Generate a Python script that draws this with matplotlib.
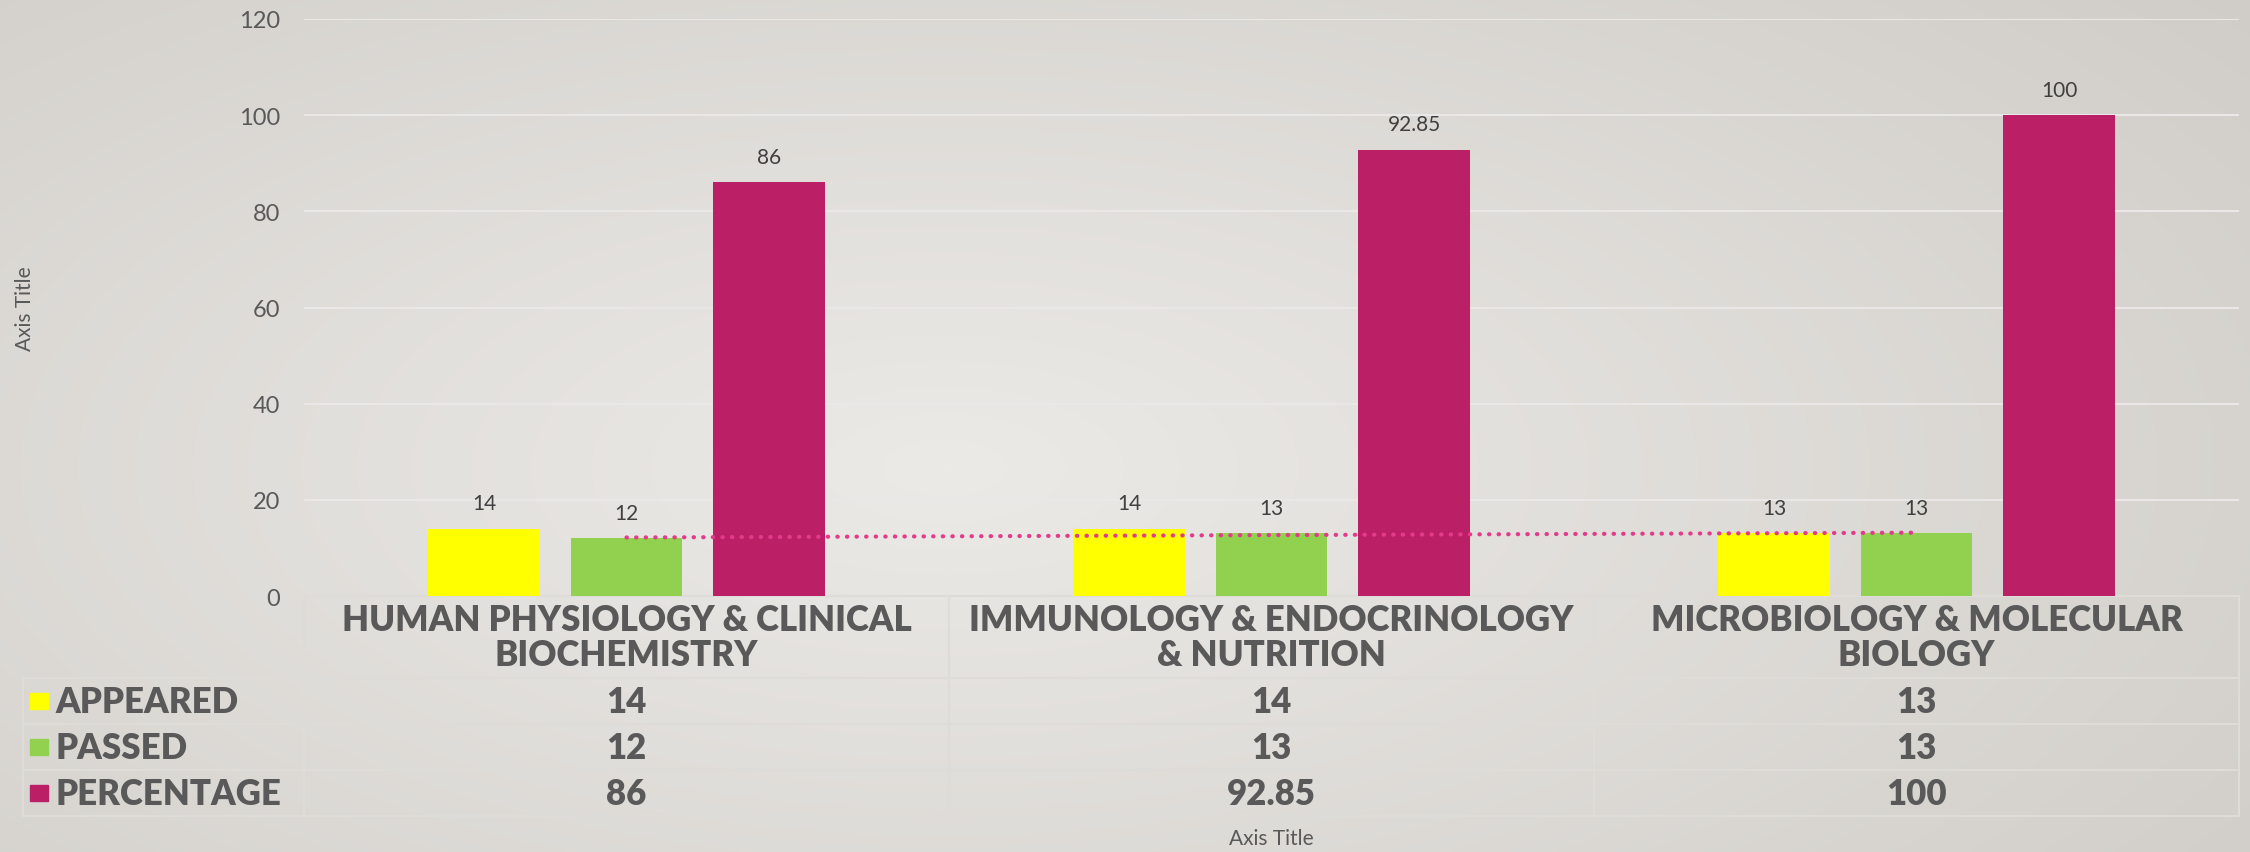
import matplotlib
matplotlib.use("Agg")
import matplotlib.pyplot as plt
import matplotlib.transforms as mtransforms
import numpy as np

plt.rcParams['font.family'] = ['Lato', 'DejaVu Sans']

categories = ['HUMAN PHYSIOLOGY & CLINICAL\nBIOCHEMISTRY',
              'IMMUNOLOGY & ENDOCRINOLOGY\n& NUTRITION',
              'MICROBIOLOGY & MOLECULAR\nBIOLOGY']
appeared = [14, 14, 13]
passed = [12, 13, 13]
percentage = [86, 92.85, 100]
series_names = ['APPEARED', 'PASSED', 'PERCENTAGE']
colors = ['#FFFF00', '#92D050', '#BB2067']
yticks = [0, 20, 40, 60, 80, 100, 120]

text_grey = '#595959'
label_grey = '#404040'
line_grey = '#dedcd8'

fig = plt.figure(figsize=(22.5, 8.53), dpi=100)

# radial grey background like the slide theme
bg = fig.add_axes([0, 0, 1, 1], zorder=-10)
yy, xx = np.mgrid[0:1:300j, 0:1:800j]
r = np.sqrt(((xx - 0.42) / 0.75) ** 2 + ((yy - 0.45) / 0.9) ** 2)
r = np.clip(r, 0, 1)
c0 = np.array([0.925, 0.918, 0.905])
c1 = np.array([0.815, 0.803, 0.784])
img = c0[None, None, :] * (1 - r[..., None]) + c1[None, None, :] * r[..., None]
bg.imshow(img, aspect='auto', extent=[0, 1, 0, 1], origin='lower')
bg.axis('off')

ax = fig.add_axes([304 / 2250, 1 - 597 / 853, 1935 / 2250, 577 / 853])
ax.patch.set_alpha(0)

x = np.arange(len(categories))
offset = 0.221
width = 0.173
values = [appeared, passed, percentage]
for i, (vals, col) in enumerate(zip(values, colors)):
    rects = ax.bar(x + (i - 1) * offset, vals, width, color=col, zorder=3)
    for rect, v in zip(rects, vals):
        ax.annotate('{:g}'.format(v),
                    xy=(rect.get_x() + rect.get_width() / 2, rect.get_height()),
                    xytext=(0, 11), textcoords='offset points',
                    ha='center', va='bottom', fontsize=15, color=label_grey)

# linear trendline on PASSED
coef = np.polyfit(x, passed, 1)
ax.plot(x, np.polyval(coef, x), linestyle=(0, (0.1, 2.2)), dash_capstyle='round',
        color='#E33A8A', lw=3, zorder=4)

ax.set_xlim(-0.5, 2.5)
ax.set_ylim(0, 120)
ax.set_yticks(yticks)
ax.set_xticks([])
ax.tick_params(axis='y', length=0, labelsize=17, labelcolor=text_grey, pad=17)
ax.grid(axis='y', color='#e9e8e6', lw=1.5, zorder=0)
for s in ax.spines.values():
    s.set_visible(False)

ax.set_ylabel('Axis Title', fontsize=15, color=text_grey)
ax.yaxis.set_label_coords(-0.139, 0.5)

# data table below the plot
trans = mtransforms.blended_transform_factory(ax.transData, ax.transAxes)
rows = [0, -0.142, -0.222, -0.302, -0.381]
left = -0.145
lkw = dict(transform=ax.transAxes, color=line_grey, lw=1.5, clip_on=False)
ax.plot([0, 1], [rows[0], rows[0]], **lkw)
for r_ in rows[1:]:
    ax.plot([left, 1], [r_, r_], **lkw)
for xv in [0, 1 / 3, 2 / 3, 1]:
    ax.plot([xv, xv], [rows[0], rows[-1]], **lkw)
ax.plot([left, left], [rows[1], rows[-1]], **lkw)

tkw = dict(fontsize=25, fontweight='heavy', color=text_grey, clip_on=False)
for xi, cat in zip(x, categories):
    ax.text(xi, (rows[0] + rows[1]) / 2, cat, transform=trans, ha='center',
            va='center', linespacing=1.1, **tkw)
for j, (name, vals, col) in enumerate(zip(series_names, values, colors)):
    yc = (rows[j + 1] + rows[j + 2]) / 2
    ax.add_patch(plt.Rectangle((-0.1415, yc - 0.014), 0.009, 0.028, color=col,
                               transform=ax.transAxes, clip_on=False))
    ax.text(-0.1285, yc, name, transform=ax.transAxes, ha='left', va='center', **tkw)
    for xi, v in zip(x, vals):
        ax.text(xi, yc, '{:g}'.format(v), transform=trans, ha='center',
                va='center', **tkw)

ax.text(0.5, -0.419, 'Axis Title', transform=ax.transAxes, ha='center',
        va='center', fontsize=15, color=text_grey)

fig.savefig('out.png', dpi=100)
